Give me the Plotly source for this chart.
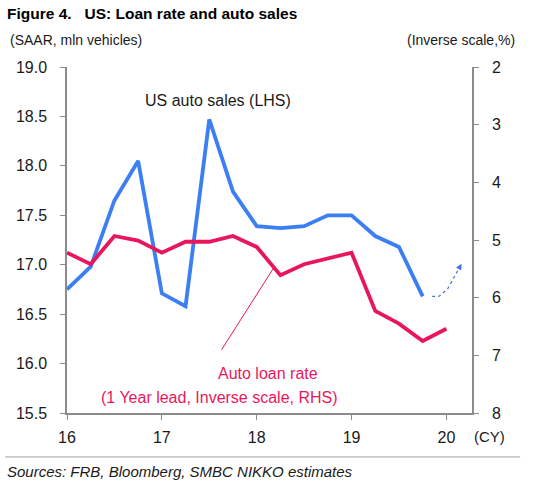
import plotly.graph_objects as go

# Data
sales_x = [16.0, 16.25, 16.5, 16.75, 17.0, 17.25, 17.5, 17.75, 18.0, 18.25, 18.5, 18.75, 19.0, 19.25, 19.5, 19.75]
sales_y = [16.75, 16.98, 17.65, 18.05, 16.71, 16.58, 18.47, 17.74, 17.39, 17.37, 17.39, 17.50, 17.50, 17.29, 17.18, 16.68]

rate_x = [16.0, 16.25, 16.5, 16.75, 17.0, 17.25, 17.5, 17.75, 18.0, 18.25, 18.5, 18.75, 19.0, 19.25, 19.5, 19.75, 20.0]
rate_y = [5.22, 5.42, 4.93, 5.01, 5.22, 5.03, 5.03, 4.93, 5.12, 5.61, 5.42, 5.32, 5.22, 6.23, 6.45, 6.75, 6.54]

# projection arrow (dotted)
proj_x = [19.85, 19.92, 20.01, 20.16]
proj_y = [16.68, 16.68, 16.75, 17.01]

# pointer line for the loan-rate label
ptr_x = [17.63, 18.18]
ptr_y = [16.14, 16.97]

x_ticks = [16, 17, 18, 19, 20]
x_ticklabels = ["16", "17", "18", "19", "20"]

BLUE = "#3b7ff2"
RED = "#e8175d"
GREY = "#8c8c8c"
FONT = "Liberation Sans, Arial, sans-serif"

fig = go.Figure()
fig.add_trace(go.Scatter(x=sales_x, y=sales_y, mode="lines",
                         line=dict(color=BLUE, width=3.8), yaxis="y", showlegend=False))
fig.add_trace(go.Scatter(x=rate_x, y=rate_y, mode="lines",
                         line=dict(color=RED, width=3.8), yaxis="y2", showlegend=False))
fig.add_trace(go.Scatter(x=proj_x, y=proj_y, mode="lines",
                         line=dict(color="#4a6fe3", width=1.2, dash="dot"), yaxis="y", showlegend=False))
fig.add_trace(go.Scatter(x=ptr_x, y=ptr_y, mode="lines",
                         line=dict(color=RED, width=1), yaxis="y", showlegend=False))

fig.add_annotation(x=proj_x[-1], y=proj_y[-1], ax=20.125, ay=16.95, xref="x", yref="y",
                   axref="x", ayref="y", text="", showarrow=True, arrowhead=2,
                   arrowsize=1.2, arrowwidth=1, arrowcolor="#4a6fe3")

fig.add_annotation(x=17.59, y=18.66, xref="x", yref="y", text="US auto sales (LHS)",
                   showarrow=False, font=dict(size=16, color="#1a1a1a", family=FONT))
fig.add_annotation(x=18.12, y=15.9, xref="x", yref="y", text="Auto loan rate",
                   showarrow=False, font=dict(size=16, color=RED, family=FONT))
fig.add_annotation(x=17.61, y=15.66, xref="x", yref="y", text="(1 Year lead, Inverse scale, RHS)",
                   showarrow=False, font=dict(size=16, color=RED, family=FONT))

# paper-level texts
fig.add_annotation(x=-0.153, y=1.155, xref="paper", yref="paper", xanchor="left", yanchor="middle",
                   text="<b>Figure 4.   US: Loan rate and auto sales</b>", showarrow=False,
                   font=dict(size=15.5, color="#000000", family=FONT))
fig.add_annotation(x=-0.1457, y=1.078, xref="paper", yref="paper", xanchor="left", yanchor="middle",
                   text="(SAAR, mln vehicles)", showarrow=False,
                   font=dict(size=14, color="#1a1a1a", family=FONT))
fig.add_annotation(x=1.111, y=1.078, xref="paper", yref="paper", xanchor="right", yanchor="middle",
                   text="(Inverse scale,%)", showarrow=False,
                   font=dict(size=14, color="#1a1a1a", family=FONT))
fig.add_annotation(x=1.044, y=-0.069, xref="paper", yref="paper", xanchor="center", yanchor="middle",
                   text="(CY)", showarrow=False,
                   font=dict(size=15, color="#1a1a1a", family=FONT))
fig.add_annotation(x=-0.153, y=-0.1705, xref="paper", yref="paper", xanchor="left", yanchor="middle",
                   text="<i>Sources: FRB, Bloomberg, SMBC NIKKO estimates</i>", showarrow=False,
                   font=dict(size=15, color="#1a1a1a", family=FONT))
fig.add_shape(type="line", xref="paper", yref="paper", x0=-0.153, x1=1.119, y0=-0.127, y1=-0.127,
              line=dict(color="#a0a0a0", width=1))

fig.update_layout(
    width=560, height=486,
    margin=dict(l=67, r=88, t=67, b=73),
    paper_bgcolor="white", plot_bgcolor="white",
    font=dict(family=FONT, size=16, color="#1a1a1a"),
    xaxis=dict(range=[16, 20.27], tickvals=x_ticks, ticktext=x_ticklabels, showgrid=False,
               zeroline=False, showline=True, linecolor=GREY, linewidth=1.5,
               ticks="outside", ticklen=5, tickcolor=GREY, tickfont=dict(size=16),
               ticklabelstandoff=4),
    yaxis=dict(range=[15.5, 19.0], dtick=0.5, tickformat=".1f", showgrid=False, zeroline=False,
               showline=True, linecolor=GREY, linewidth=1.5, ticks="outside", ticklen=5,
               tickcolor=GREY, tickfont=dict(size=16), ticklabelstandoff=10),
    yaxis2=dict(range=[8, 2], dtick=1, overlaying="y", side="right", showgrid=False, zeroline=False,
                showline=True, linecolor=GREY, linewidth=1.5, ticks="outside", ticklen=5,
                tickcolor=GREY, tickfont=dict(size=16), ticklabelstandoff=10),
)

fig.write_html("out.html", config={"displayModeBar": False},
               post_script="document.body.style.margin='0';")
